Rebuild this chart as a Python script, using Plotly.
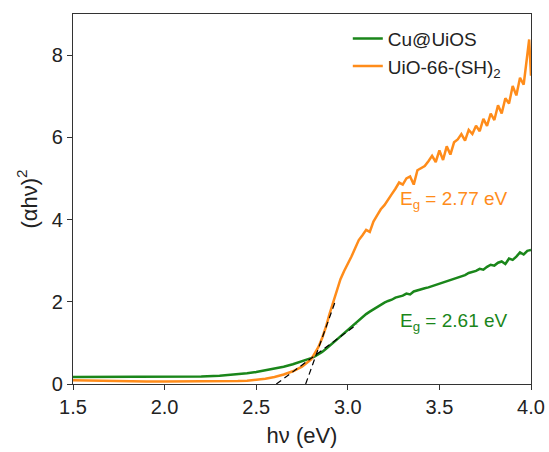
import plotly.graph_objects as go

# ---- data ----
hv = [1.5, 1.6, 1.7, 1.8, 1.9, 2.0, 2.1, 2.2, 2.3, 2.4, 2.45, 2.5, 2.55, 2.6, 2.65, 2.7, 2.75, 2.8,
      2.82, 2.84, 2.86, 2.88, 2.90, 2.92, 2.94, 2.96, 2.98, 3.00,
      3.02, 3.04, 3.06, 3.08, 3.10, 3.12, 3.14, 3.16, 3.18, 3.20,
      3.22, 3.24, 3.26, 3.28, 3.30, 3.32, 3.34, 3.36, 3.38, 3.40,
      3.42, 3.44, 3.46, 3.48, 3.50, 3.52, 3.54, 3.56, 3.58, 3.60,
      3.62, 3.64, 3.66, 3.68, 3.70, 3.72, 3.74, 3.76, 3.78, 3.80,
      3.82, 3.84, 3.86, 3.88, 3.90, 3.92, 3.94, 3.96, 3.98, 3.99, 4.00]

cu_uios = [0.17, 0.17, 0.17, 0.165, 0.165, 0.165, 0.17, 0.18, 0.20, 0.23, 0.26, 0.29, 0.33, 0.37, 0.42, 0.48, 0.55, 0.63,
           0.67, 0.72, 0.78, 0.85, 0.92, 1.00, 1.08, 1.16, 1.24, 1.32,
           1.40, 1.48, 1.56, 1.63, 1.70, 1.76, 1.82, 1.88, 1.93, 1.98,
           2.02, 2.05, 2.10, 2.13, 2.15, 2.20, 2.18, 2.25, 2.28, 2.30,
           2.33, 2.35, 2.38, 2.40, 2.44, 2.47, 2.50, 2.52, 2.55, 2.58,
           2.62, 2.65, 2.70, 2.72, 2.75, 2.80, 2.78, 2.85, 2.90, 2.88,
           2.95, 2.98, 2.92, 3.05, 3.02, 3.10, 3.20, 3.15, 3.24, 3.25, 3.26]

uio66_sh2 = [0.09, 0.08, 0.07, 0.065, 0.06, 0.06, 0.06, 0.06, 0.06, 0.07, 0.08, 0.10, 0.13, 0.17, 0.23, 0.31, 0.42, 0.60,
             0.75, 0.90, 1.12, 1.38, 1.70, 2.00, 2.30, 2.55, 2.75, 2.92,
             3.10, 3.30, 3.50, 3.62, 3.75, 3.70, 3.95, 4.10, 4.25, 4.35,
             4.50, 4.62, 4.75, 4.90, 4.85, 5.00, 5.05, 4.85, 5.20, 5.25,
             5.30, 5.42, 5.55, 5.40, 5.68, 5.45, 5.78, 5.58, 5.88, 5.95,
             6.08, 5.92, 6.18, 6.08, 6.28, 6.15, 6.45, 6.28, 6.58, 6.42,
             6.78, 6.58, 6.95, 6.82, 7.25, 7.02, 7.45, 7.28, 7.95, 8.38, 7.50]

tan_uio_x = [2.77, 2.935]
tan_uio_y = [0.0, 2.05]
tan_cu_x = [2.61, 3.05]
tan_cu_y = [0.0, 1.45]

x_ticks = [1.5, 2.0, 2.5, 3.0, 3.5, 4.0]
y_ticks = [0, 2, 4, 6, 8]

GREEN = "#1a861a"
ORANGE = "#ff8c1a"
FONT = "Arial, Liberation Sans, sans-serif"
TXT = "#222222"

fig = go.Figure()
fig.add_trace(go.Scatter(x=hv, y=cu_uios, mode="lines", name="Cu@UiOS",
                         line=dict(color=GREEN, width=2.5)))
fig.add_trace(go.Scatter(x=hv, y=uio66_sh2, mode="lines", name="UiO-66-(SH)<sub>2</sub>",
                         line=dict(color=ORANGE, width=2.5)))
fig.add_trace(go.Scatter(x=tan_uio_x, y=tan_uio_y, mode="lines", showlegend=False,
                         line=dict(color="black", width=1.2, dash="6px,4px")))
fig.add_trace(go.Scatter(x=tan_cu_x, y=tan_cu_y, mode="lines", showlegend=False,
                         line=dict(color="black", width=1.2, dash="6px,4px")))

fig.add_annotation(x=3.275, y=4.48, xanchor="left", yanchor="middle", showarrow=False,
                   text="E<sub>g</sub> = 2.77 eV", font=dict(color=ORANGE, size=19, family=FONT))
fig.add_annotation(x=3.275, y=1.50, xanchor="left", yanchor="middle", showarrow=False,
                   text="E<sub>g</sub> = 2.61 eV", font=dict(color=GREEN, size=19, family=FONT))

axis_common = dict(showline=True, linecolor="#333333", linewidth=1.3, mirror=True,
                   ticks="outside", ticklen=5, tickwidth=1.3, tickcolor="#333333",
                   showgrid=False, zeroline=False, automargin=False,
                   tickfont=dict(size=20, family=FONT, color=TXT))

fig.update_xaxes(range=[1.5, 4.0], tickvals=x_ticks, ticktext=[f"{v:.1f}" for v in x_ticks],
                 title=dict(text="hν (eV)", font=dict(size=22, family=FONT, color=TXT), standoff=10),
                 **axis_common)
fig.update_yaxes(range=[0, 9], tickvals=y_ticks,
                 title=dict(text="(αhν)<sup>2</sup>", font=dict(size=22, family=FONT, color=TXT), standoff=8),
                 **axis_common)

fig.update_layout(width=549, height=452, margin=dict(l=73, r=18, t=14, b=68),
                  plot_bgcolor="white", paper_bgcolor="white",
                  font=dict(family=FONT, size=19, color=TXT),
                  legend=dict(x=0.60, y=0.985, xanchor="left", yanchor="top",
                              bgcolor="rgba(0,0,0,0)", font=dict(size=19, family=FONT, color=TXT),
                              tracegroupgap=0))

# remove the default page margin so the 549x452 figure fills the window exactly
fig.write_html("out.html", config={"displayModeBar": False},
               post_script="document.body.style.margin='0';document.body.style.overflow='hidden';")
